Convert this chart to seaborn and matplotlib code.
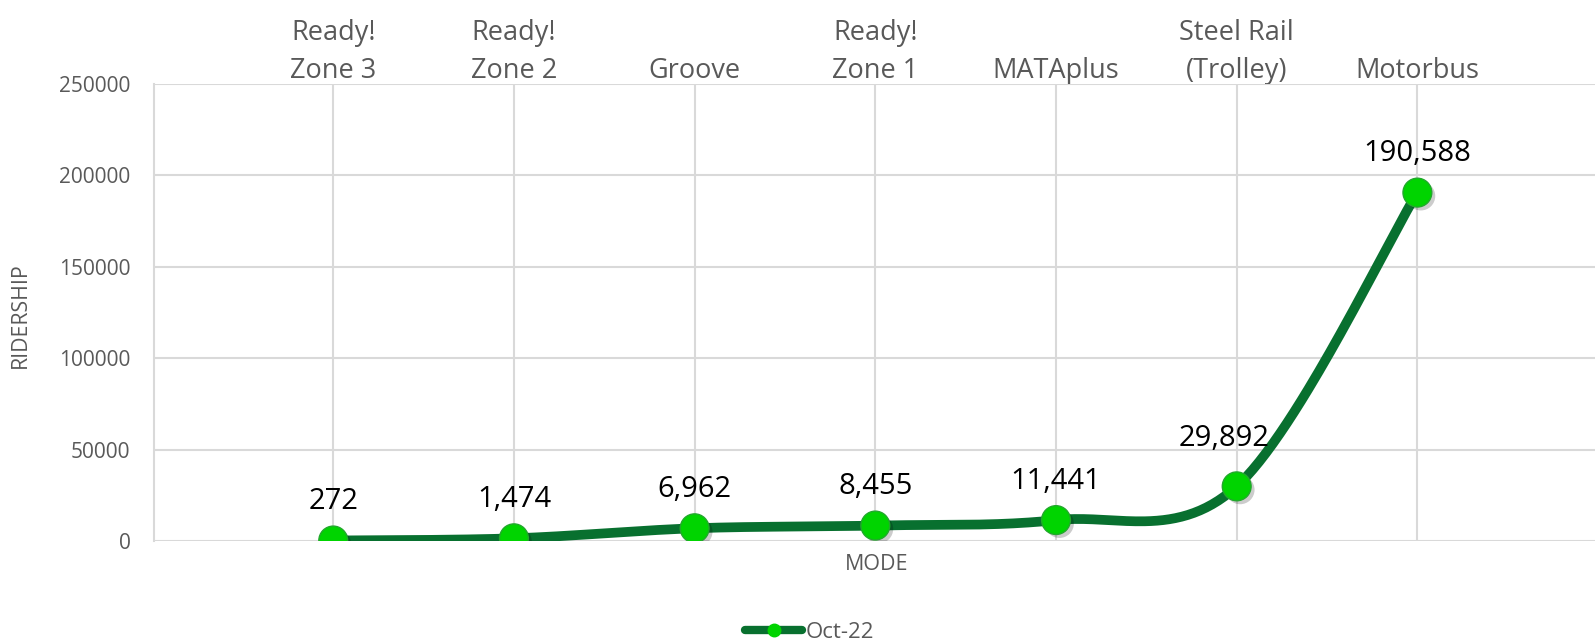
import numpy as np
import pandas as pd
import matplotlib
matplotlib.use("Agg")
import matplotlib.pyplot as plt
import matplotlib.patheffects as pe
from matplotlib.lines import Line2D
import seaborn as sns

modes = ["Ready!\nZone 3", "Ready!\nZone 2", "Groove", "Ready!\nZone 1",
         "MATAplus", "Steel Rail\n(Trolley)", "Motorbus"]
ridership = [272, 1474, 6962, 8455, 11441, 29892, 190588]
series_name = "Oct-22"
y_ticks = [0, 50000, 100000, 150000, 200000, 250000]

LINE = "#08702F"
MARK = "#00D400"
GRID = "#D9D9D9"
GRAY = "#595959"

sns.set_theme(style="white")
plt.rcParams["font.family"] = ["Open Sans", "DejaVu Sans"]

df = pd.DataFrame({"pos": np.arange(len(modes)), "riders": ridership})


def smooth(xs, ys, n=60):
    # Excel style smoothed line: cubic bezier, catmull-rom control points
    px, py = [], []
    k = len(xs)
    for i in range(k - 1):
        i0, i2 = max(i - 1, 0), min(i + 2, k - 1)
        p0 = np.array([xs[i], ys[i]], float)
        p3 = np.array([xs[i + 1], ys[i + 1]], float)
        c1 = p0 + (p3 - np.array([xs[i0], ys[i0]], float)) / 6
        c2 = p3 - (np.array([xs[i2], ys[i2]], float) - p0) / 6
        t = np.linspace(0, 1, n)[:, None]
        b = (1 - t) ** 3 * p0 + 3 * (1 - t) ** 2 * t * c1 + 3 * (1 - t) * t ** 2 * c2 + t ** 3 * p3
        px.extend(b[:, 0])
        py.extend(b[:, 1])
    return np.array(px), np.array(py)


W, H = 1595, 643
fig = plt.figure(figsize=(W / 100, H / 100), dpi=100)
ax = fig.add_axes([154 / W, 1 - 541 / H, 1 - 154 / W, (541 - 84) / H])

sx, sy = smooth(df["pos"].values, df["riders"].values)
ax.plot(sx, sy, color=LINE, lw=7, solid_capstyle="round", zorder=3)
sns.scatterplot(data=df, x="pos", y="riders", s=430, color=MARK,
                edgecolor="#22A82C", linewidth=1, zorder=4, ax=ax, legend=False)
ax.collections[-1].set_path_effects([
    pe.SimplePatchShadow(offset=(2.5, -2.5), alpha=0.2, shadow_rgbFace="black"),
    pe.Normal()])

ax.set_xlim(-0.992, 6.983)
ax.set_ylim(0, 250000)
ax.set_xticks(df["pos"])
ax.set_xticklabels(modes, fontsize=19.5, color=GRAY, linespacing=1.48)
ax.xaxis.tick_top()
ax.set_yticks(y_ticks)
ax.set_yticklabels([str(v) for v in y_ticks], fontsize=15, color=GRAY)
ax.tick_params(axis="x", length=0, pad=-1)
ax.tick_params(axis="y", length=0, pad=17)
ax.grid(True, color=GRID, lw=1.5)
ax.set_axisbelow(True)
for s in ["top", "right", "bottom"]:
    ax.spines[s].set_visible(False)
ax.spines["left"].set_color(GRID)
ax.spines["left"].set_linewidth(1.5)
ax.set_xlabel("")
ax.set_ylabel("")

fig.text(877 / W, 1 - 564 / H, "MODE", fontsize=15.5, color=GRAY,
         ha="center", va="center")
fig.text(20.5 / W, 1 - 315 / H, "RIDERSHIP", fontsize=15.3, color=GRAY,
         ha="center", va="center", rotation=90)

for x, y in zip(df["pos"], df["riders"]):
    if x == 5:
        ax.annotate(f"{y:,}", (x, y), xytext=(-9, 34.5), textcoords="offset points",
                    ha="center", va="center", fontsize=21, color="black",
                    arrowprops=dict(arrowstyle="-", color="#A6A6A6", lw=1,
                                    shrinkA=12, shrinkB=2))
    else:
        ax.annotate(f"{y:,}", (x, y), xytext=(0, 28), textcoords="offset points",
                    ha="center", va="center", fontsize=21, color="black")

handle = Line2D([0], [0], color=LINE, lw=6, solid_capstyle="round",
                marker="o", markersize=9, markerfacecolor=MARK,
                markeredgecolor=MARK)
fig.legend([handle], [series_name], loc="center left",
           bbox_to_anchor=(745 / W, 1 - 632 / H), borderpad=0, borderaxespad=0,
           frameon=False, fontsize=16, handlelength=2.57, handletextpad=0.15,
           labelcolor=GRAY)

fig.savefig("out.png", dpi=100)
